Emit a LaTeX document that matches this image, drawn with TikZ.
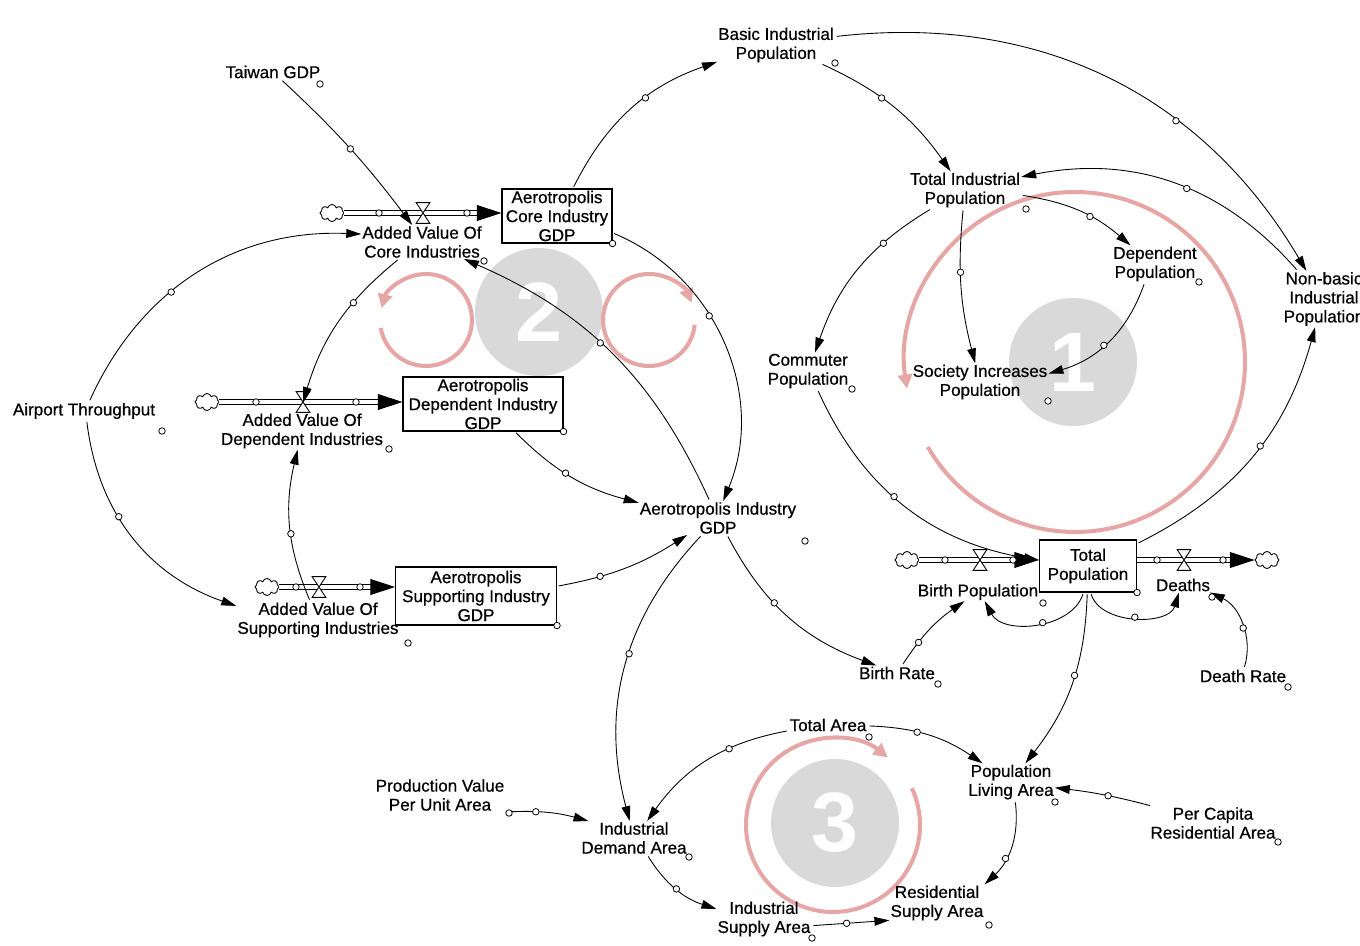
\documentclass[tikz,border=0pt]{standalone}
\usepackage{fontspec}
\setmainfont{Liberation Sans}
\newfontfamily\varfont{Liberation Sans}[FakeBold=0.6]
\usetikzlibrary{arrows.meta,shapes.symbols}

\definecolor{looppink}{RGB}{231,166,166}
\definecolor{loopgray}{RGB}{217,217,217}

\tikzset{
  var/.style={align=center, inner sep=0.5pt, font=\varfont\fontsize{9.7}{10.8}\selectfont},
  stock/.style={var, draw, line width=0.6pt, inner xsep=2pt, inner ysep=1pt},
  hnd/.style={circle, draw, fill=white, line width=0.45pt, inner sep=0pt, minimum size=0.13cm},
  cn/.style={line width=0.5pt, -{Triangle[length=8.5pt,width=5pt]}, shorten <=1pt},
  pipe/.style={double, double distance=2.3pt, line width=0.6pt, -{Triangle[length=14pt,width=9pt]}},
  cld/.style={cloud, draw, cloud puffs=8, aspect=1.4, inner sep=0pt, minimum width=0.48cm, minimum height=0.34cm, line width=0.5pt},
  vlv/.style={inner sep=0pt, minimum width=0.26cm, minimum height=0.4cm},
  loopring/.style={looppink, line width=2.3pt, -{Triangle[length=8pt,width=8pt]}},
  loopdisc/.style={circle, fill=loopgray, inner sep=0pt, minimum size=2.56cm, text=white, font=\bfseries\fontsize{48}{48}\selectfont}
}

\begin{document}
\begin{tikzpicture}[x=0.02cm, y=0.02cm]
  \fill[white] (0,0) rectangle (1360,-946);
  \useasboundingbox (0,0) rectangle (1360,-946);

  % loop markers
  \node[loopdisc] (l1) at (1073,-362) {1};
  \node[loopdisc] (l2) at (539,-312) {2};
  \node[loopdisc] (l3) at (835,-823) {3};
  \draw[loopring] (1075,-362) ++(210:3.4cm) arc[start angle=210, end angle=549, radius=3.4cm];
  \draw[loopring] (426,-320) ++(190:0.92cm) arc[start angle=190, end angle=525, radius=0.92cm];
  \draw[loopring] (649,-320) ++(-6:0.92cm) arc[start angle=-6, end angle=-338, radius=0.92cm];
  \draw[loopring] (833,-825) ++(25:1.74cm) arc[start angle=25, end angle=-309, radius=1.74cm];

  % stocks
  \node[stock, minimum width=2.2cm] (cig) at (557,-216) {Aerotropolis\\Core Industry\\GDP};
  \node[stock, minimum width=3.2cm] (dig) at (483,-404) {Aerotropolis\\Dependent Industry\\GDP};
  \node[stock, minimum width=3.22cm, minimum height=1.16cm] (sig) at (476,-596) {Aerotropolis\\Supporting Industry\\GDP};
  \node[stock, minimum width=1.94cm, minimum height=1.04cm] (tp) at (1088,-566) {Total\\Population};

  % variables
  \node[var] (tw) at (273,-72) {Taiwan GDP};
  \node[var] (bip) at (776,-45) {Basic Industrial\\Population};
  \node[var] (avc) at (422,-242) {Added Value Of\\Core Industries};
  \node[var] (avd) at (302,-431) {Added Value Of\\Dependent Industries};
  \node[var] (avs) at (318,-620) {Added Value Of\\Supporting Industries};
  \node[var] (at) at (84,-411) {Airport Throughput};
  \node[var] (aig) at (718,-518) {Aerotropolis Industry\\GDP};
  \node[var] (tip) at (965,-190) {Total Industrial\\Population};
  \node[var] (dp) at (1155,-264) {Dependent\\Population};
  \node[var] (nbp) at (1324,-299) {Non-basic\\Industrial\\Population};
  \node[var] (cp) at (808,-371) {Commuter\\Population};
  \node[var] (sip) at (980,-382) {Society Increases\\Population};
  \node[var] (bp) at (978,-592) {Birth Population};
  \node[var] (dth) at (1183,-585) {Deaths};
  \node[var] (br) at (897,-673) {Birth Rate};
  \node[var] (dr) at (1243,-676) {Death Rate};
  \node[var] (ta) at (828,-725) {Total Area};
  \node[var] (pla) at (1011,-782) {Population\\Living Area};
  \node[var] (pcra) at (1213,-823) {Per Capita\\Residential Area};
  \node[var] (pvua) at (440,-795) {Production Value\\Per Unit Area};
  \node[var] (ida) at (634,-838) {Industrial\\Demand Area};
  \node[var] (isa) at (764,-919) {Industrial\\Supply Area};
  \node[var] (rsa) at (937,-903) {Residential\\Supply Area};

  % flows
  \node[cld] (cc) at (332,-213) {};
  \node[cld] (cd) at (207,-402) {};
  \node[cld] (cs) at (267,-587) {};
  \node[cld] (cb) at (907,-560) {};
  \node[cld] (cx) at (1267,-560) {};
  \node[vlv] (vc) at (423,-213) {};
  \node[vlv] (vd) at (303,-402) {};
  \node[vlv] (vs) at (319,-587) {};
  \node[vlv] (vb) at (980,-560) {};
  \node[vlv] (vx) at (1184,-560) {};
  \draw[pipe] (cc.east) -- (cc.east -| cig.west);
  \draw[pipe] (cd.east) -- (cd.east -| dig.west);
  \draw[pipe] (cs.east) -- (cs.east -| sig.west);
  \draw[pipe] (cb.east) -- (cb.east -| tp.west);
  \draw[pipe] (tp.east |- cx.west) -- (cx.west);
  \foreach \v in {vc,vd,vs,vb,vx}
    \draw[line width=0.5pt, fill=white] (\v.north west) -- (\v.north east) -- (\v.south west) -- (\v.south east) -- cycle;

  % economy links
  \draw[cn] (tw) to[bend left=5] node[hnd]{} (avc.120);
  \draw[cn] (at) to[bend left=34] node[hnd, pos=.4]{} (avc);
  \draw[cn] (at) to[bend right=32] node[hnd, pos=.4]{} (avs);
  \draw[cn] (avc) to[bend right=17] node[hnd, pos=.35]{} (vd.center);
  \draw[cn] (avs) to[bend left=18] node[hnd, pos=.45]{} (avd);
  \draw[cn] (cig) to[bend left=22] node[hnd, pos=.6]{} (bip);
  \draw[cn] (cig) to[bend left=45] node[hnd, pos=.4]{} (aig);
  \draw[cn] (aig) to[bend right=21] node[hnd, pos=.55]{} (avc);
  \draw[cn] (dig) to[bend right=15] node[hnd, pos=.45]{} (aig);
  \draw[cn] (sig) to[bend right=11] node[hnd, pos=.3]{} (aig);
  \draw[cn] (aig) to[bend right=29] node[hnd, pos=.45]{} (ida);
  \draw[cn] (aig) to[bend right=21] node[hnd, pos=.4]{} (br);

  % population links
  \draw[cn] (bip) to[bend left=15] node[hnd, pos=.4]{} (tip);
  \draw[cn] (bip) to[bend left=33] node[hnd, pos=.65]{} (nbp);
  \draw[cn] (nbp) to[bend right=30] node[hnd, pos=.45]{} (tip);
  \draw[cn] (tip) to[bend left=16] node[hnd, pos=.6]{} (dp);
  \draw[cn] (dp) to[bend left=27] node[hnd, pos=.55]{} (sip);
  \draw[cn] (tip) to[bend right=10] node[hnd, pos=.4]{} (sip);
  \draw[cn] (tip) to[bend right=20] node[hnd, pos=.3]{} (cp);
  \draw[cn] (cp) to[bend right=28] node[hnd, pos=.45]{} (tp);
  \draw[cn] (tp) to[bend right=24] node[hnd, pos=.55]{} (nbp);
  \draw[cn] (tp) to[bend left=67] node[hnd, pos=.45]{} (bp);
  \draw[cn] (tp) to[bend right=73] node[hnd, pos=.5]{} (dth);
  \draw[cn] (dr) to[bend right=41] node[hnd, pos=.45]{} (dth);
  \draw[cn] (br) to[bend left=11] node[hnd, pos=.3]{} (bp);
  \draw[cn] (tp) to[bend left=18] node[hnd, pos=.45]{} (pla);

  % land links
  \draw[cn] (ta) to[bend left=16] node[hnd, pos=.4]{} (pla);
  \draw[cn] (ta) to[bend right=22] node[hnd, pos=.35]{} (ida);
  \draw[cn] (pvua.south east) to[bend left=9] node[hnd, pos=.35]{} (ida);
  \draw[cn] (ida) to[bend right=20] node[hnd]{} (isa);
  \draw[cn] (isa.-8) -- node[hnd, pos=.45]{} (rsa.200);
  \draw[cn] (pla) to[bend left=27] node[hnd, pos=.65]{} (rsa.north east);
  \draw[cn] (pcra) to[bend right=4] node[hnd, pos=.45]{} (pla);

  % name handles
  \foreach \s in {cig,dig,sig,tp}
    \node[hnd] at (\s.south east) {};
  \foreach \p in {(320,-84),(835,-63),(484,-261),(389,-449),(408,-643),(162,-431),
                  (805,-541),(1026,-209),(1199,-282),(852,-389),(1048,-401),(1043,-603),
                  (1212,-597),(938,-684),(1288,-687),(869,-737),(1055,-802),(1278,-842),
                  (509,-813),(689,-857),(812,-938),(989,-925),
                  (379,-213),(467,-213),(256,-402),(356,-402),(296,-587),(360,-587),
                  (945,-560),(1013,-560),(1157,-560),(1223,-560)}
    \node[hnd] at \p {};
\end{tikzpicture}
\end{document}
